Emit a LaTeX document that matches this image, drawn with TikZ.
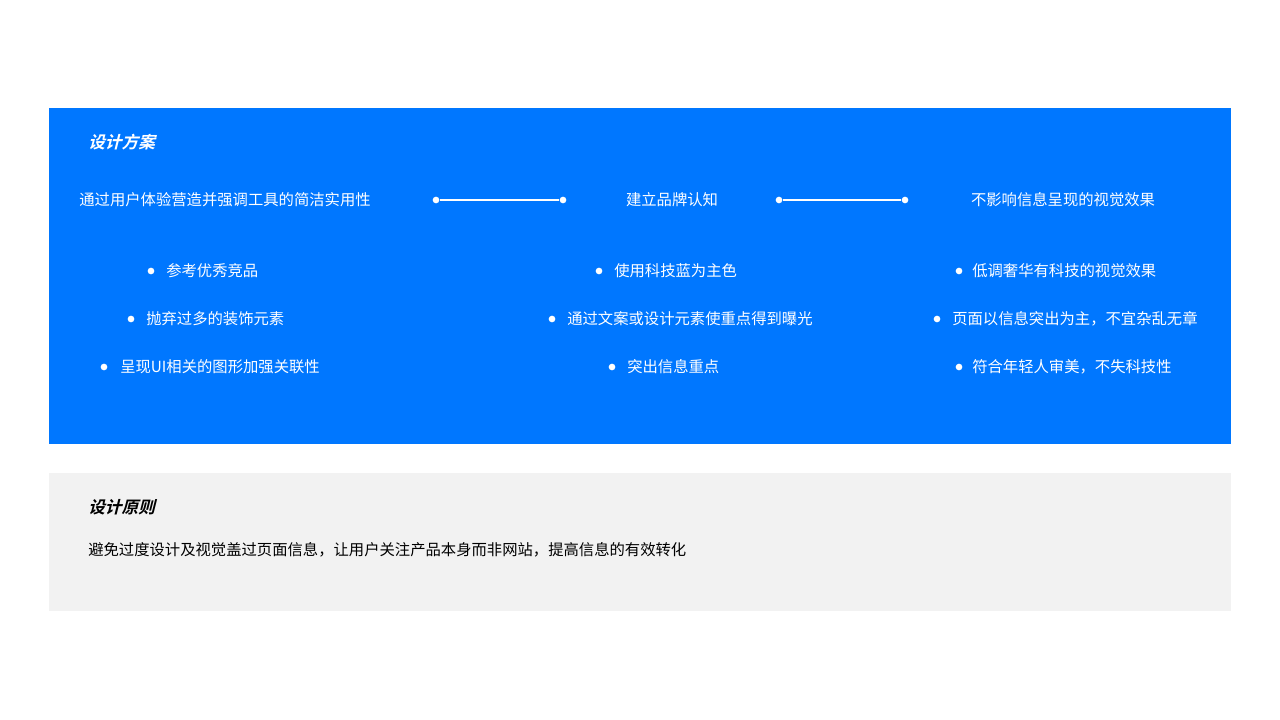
\documentclass[tikz,border=0pt]{standalone}
\usepackage{fontspec}
\newfontfamily\cjk{Noto Sans CJK SC}
\newfontfamily\cjkb{Noto Sans CJK SC}[BoldFont={* Bold},FakeSlant=0.25]
\definecolor{bblue}{HTML}{0077FF}
\definecolor{gbg}{HTML}{F2F2F2}
\begin{document}
\begin{tikzpicture}[x=0.75pt,y=-0.75pt,
  txt/.style={font=\cjk\fontsize{11.5}{13}\selectfont,text=white,inner sep=0pt},
  btxt/.style={txt,anchor=west},
  ttl/.style={font=\cjkb\bfseries\fontsize{12.5}{14}\selectfont,inner sep=0pt,anchor=west},
  dotn/.style={circle,fill=white,inner sep=0pt,minimum size=5pt},
  ln/.style={white,line width=0.8pt}]
\useasboundingbox (0,0) rectangle (1280,720);
\fill[bblue] (49,108) rectangle (1231,444);
\fill[gbg] (49,473) rectangle (1231,611);
\node[ttl,text=white] (t1) at (88,142) {设计方案};
\node[txt] (r1) at (225,200) {通过用户体验营造并强调工具的简洁实用性};
\node[txt] (r2) at (672,200) {建立品牌认知};
\node[txt] (r3) at (1063,200) {不影响信息呈现的视觉效果};
\node[dotn] (a1) at (436,200) {}; \node[dotn] (a2) at (563,200) {};
\node[dotn] (b1) at (779,200) {}; \node[dotn] (b2) at (905,200) {};
\draw[ln] (a1)--(a2); \draw[ln] (b1)--(b2);
% column 1
\node[dotn] (c11) at (151,271) {}; \node[btxt] (l11) at (166,271) {参考优秀竞品};
\node[dotn] (c12) at (131,319) {}; \node[btxt] (l12) at (146,319) {抛弃过多的装饰元素};
\node[dotn] (c13) at (104,367) {}; \node[btxt] (l13) at (120,367) {呈现UI相关的图形加强关联性};
% column 2
\node[dotn] (c21) at (599,271) {}; \node[btxt] (l21) at (614,271) {使用科技蓝为主色};
\node[dotn] (c22) at (552,319) {}; \node[btxt] (l22) at (567,319) {通过文案或设计元素使重点得到曝光};
\node[dotn] (c23) at (612,367) {}; \node[btxt] (l23) at (627,367) {突出信息重点};
% column 3
\node[dotn] (c31) at (959,271) {}; \node[btxt] (l31) at (972,271) {低调奢华有科技的视觉效果};
\node[dotn] (c32) at (937,319) {}; \node[btxt] (l32) at (952,319) {页面以信息突出为主，不宜杂乱无章};
\node[dotn] (c33) at (959,367) {}; \node[btxt] (l33) at (972,367) {符合年轻人审美，不失科技性};
% principles
\node[ttl,text=black] (t2) at (88,507) {设计原则};
\node[btxt,text=black] (p) at (88,550) {避免过度设计及视觉盖过页面信息，让用户关注产品本身而非网站，提高信息的有效转化};
\end{tikzpicture}
\end{document}
